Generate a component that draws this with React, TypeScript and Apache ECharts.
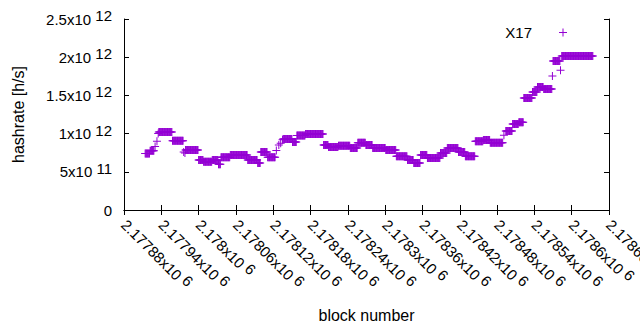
import React, { useEffect, useRef } from "react";
import * as echarts from "echarts";

// Runs of constant hashrate (block numbers inclusive, hashrate in h/s)
const runFirstBlock = [
  2177914, 2177922, 2177930, 2177933, 2177935, 2177936, 2177958, 2177976, 2177978, 2177979,
  2178000, 2178008, 2178022, 2178032, 2178036, 2178051, 2178079, 2178095, 2178100, 2178111,
  2178125, 2178129, 2178132, 2178135, 2178136, 2178151, 2178158, 2178172, 2178201, 2178209,
  2178225, 2178244, 2178256, 2178269, 2178280, 2178301, 2178318, 2178336, 2178346, 2178357,
  2178368, 2178389, 2178400, 2178418, 2178429, 2178445, 2178458, 2178469, 2178491, 2178494,
  2178505, 2178515, 2178523, 2178537, 2178545, 2178555, 2178569, 2178570, 2178582, 2178584,
];
const runLastBlock = [
  2177921, 2177928, 2177930, 2177933, 2177935, 2177957, 2177975, 2177976, 2177978, 2177999,
  2178007, 2178021, 2178031, 2178035, 2178050, 2178078, 2178094, 2178099, 2178110, 2178123,
  2178125, 2178129, 2178132, 2178135, 2178150, 2178157, 2178171, 2178200, 2178208, 2178224,
  2178243, 2178255, 2178268, 2178279, 2178300, 2178317, 2178335, 2178345, 2178356, 2178367,
  2178388, 2178399, 2178417, 2178428, 2178444, 2178457, 2178468, 2178489, 2178491, 2178504,
  2178514, 2178522, 2178536, 2178544, 2178554, 2178568, 2178569, 2178581, 2178582, 2178634,
];
const runHashrate = [
  0.74e12, 0.775e12, 0.83e12, 0.9e12, 1.0e12, 1.02e12, 0.905e12, 0.76e12, 0.745e12, 0.785e12,
  0.655e12, 0.63e12, 0.655e12, 0.6e12, 0.69e12, 0.72e12, 0.655e12, 0.615e12, 0.76e12, 0.69e12,
  0.78e12, 0.85e12, 0.875e12, 0.92e12, 0.93e12, 0.89e12, 0.975e12, 0.995e12, 0.85e12, 0.825e12,
  0.84e12, 0.81e12, 0.88e12, 0.85e12, 0.81e12, 0.785e12, 0.705e12, 0.655e12, 0.615e12, 0.72e12,
  0.68e12, 0.745e12, 0.81e12, 0.76e12, 0.705e12, 0.9e12, 0.915e12, 0.88e12, 0.98e12, 1.035e12,
  1.125e12, 1.15e12, 1.466e12, 1.545e12, 1.61e12, 1.585e12, 1.755e12, 1.95e12, 1.83e12, 2.015e12,
];

const seriesName = "X17";
const xMin = 2177880;
const xMax = 2178660;
const xStep = 60;
const yMin = 0;
const yMax = 2.5e12;
const yStep = 5e11;

const PLUS = "path://M0,3.5H3.5V0H4.5V3.5H8V4.5H4.5V8H3.5V4.5H0Z";
const COLOR = "#9400D3";
const FONT = "Liberation Sans";

function buildPoints(): [number, number][] {
  const pts: [number, number][] = [];
  for (let i = 0; i < runFirstBlock.length; i++) {
    for (let b = runFirstBlock[i]; b <= runLastBlock[i]; b++) {
      pts.push([b, runHashrate[i]]);
    }
  }
  return pts;
}

function sci(v: number): string {
  if (v === 0) return "{m|0}";
  const e = Math.floor(Math.log10(Math.abs(v)) + 1e-9);
  const m = +(v / Math.pow(10, e)).toFixed(4);
  return `{m|${m}x10}{s| ${e}}`;
}

function xLabel(v: number): string {
  const m = +(v / 1e6).toFixed(5);
  return `{m|${m}x10}{s| 6}`;
}

const rich = {
  m: { fontFamily: FONT, fontSize: 15, color: "#000", lineHeight: 22, verticalAlign: "middle" as const },
  s: { fontFamily: FONT, fontSize: 15, color: "#000", lineHeight: 14, verticalAlign: "top" as const },
};

export default function App() {
  const ref = useRef<HTMLDivElement>(null);
  useEffect(() => {
    document.body.style.margin = "0";
    if (!ref.current) return;
    const chart = echarts.init(ref.current, undefined, { renderer: "svg" });
    const axisLine = { show: true, lineStyle: { color: "#000", width: 1 } };
    const tick = { show: true, inside: true, length: 5, lineStyle: { color: "#000" } };
    chart.setOption({
      animation: false,
      backgroundColor: "#fff",
      grid: { left: 124, right: 31, top: 19, bottom: 120, containLabel: false, outerBoundsMode: "none" },
      legend: {
        right: 68,
        top: 20,
        align: "right",
        itemWidth: 8,
        itemHeight: 8,
        icon: PLUS,
        data: [seriesName],
        textStyle: { fontFamily: FONT, fontSize: 15, color: "#000", padding: [0, 22, 0, 0] },
        itemStyle: { color: COLOR },
      },
      xAxis: [
        {
          type: "value",
          min: xMin,
          max: xMax,
          interval: xStep,
          name: "block number",
          nameLocation: "middle",
          nameGap: 97,
          nameTextStyle: { fontFamily: FONT, fontSize: 16, color: "#000" },
          axisLine,
          axisTick: tick,
          splitLine: { show: false },
          axisLabel: {
            rotate: -45,
            margin: 12,
            formatter: xLabel,
            rich,
            showMaxLabel: true,
            hideOverlap: false,
          },
        },
        {
          type: "value",
          position: "top",
          min: xMin,
          max: xMax,
          interval: xStep,
          axisLine,
          axisTick: tick,
          splitLine: { show: false },
          axisLabel: { show: false },
        },
      ],
      yAxis: [
        {
          type: "value",
          min: yMin,
          max: yMax,
          interval: yStep,
          name: "hashrate [h/s]",
          nameLocation: "middle",
          nameRotate: 90,
          nameGap: 98,
          nameTextStyle: { fontFamily: FONT, fontSize: 16, color: "#000" },
          axisLine,
          axisTick: tick,
          splitLine: { show: false },
          axisLabel: { margin: 12, formatter: sci, rich },
        },
        {
          type: "value",
          position: "right",
          min: yMin,
          max: yMax,
          interval: yStep,
          axisLine,
          axisTick: tick,
          splitLine: { show: false },
          axisLabel: { show: false },
        },
      ],
      series: [
        {
          name: seriesName,
          type: "scatter",
          xAxisIndex: 0,
          yAxisIndex: 0,
          symbol: PLUS,
          symbolSize: 8,
          itemStyle: { color: COLOR, opacity: 1 },
          data: buildPoints(),
        },
      ],
    });
    return () => chart.dispose();
  }, []);
  return <div ref={ref} style={{ width: 640, height: 330 }} />;
}
